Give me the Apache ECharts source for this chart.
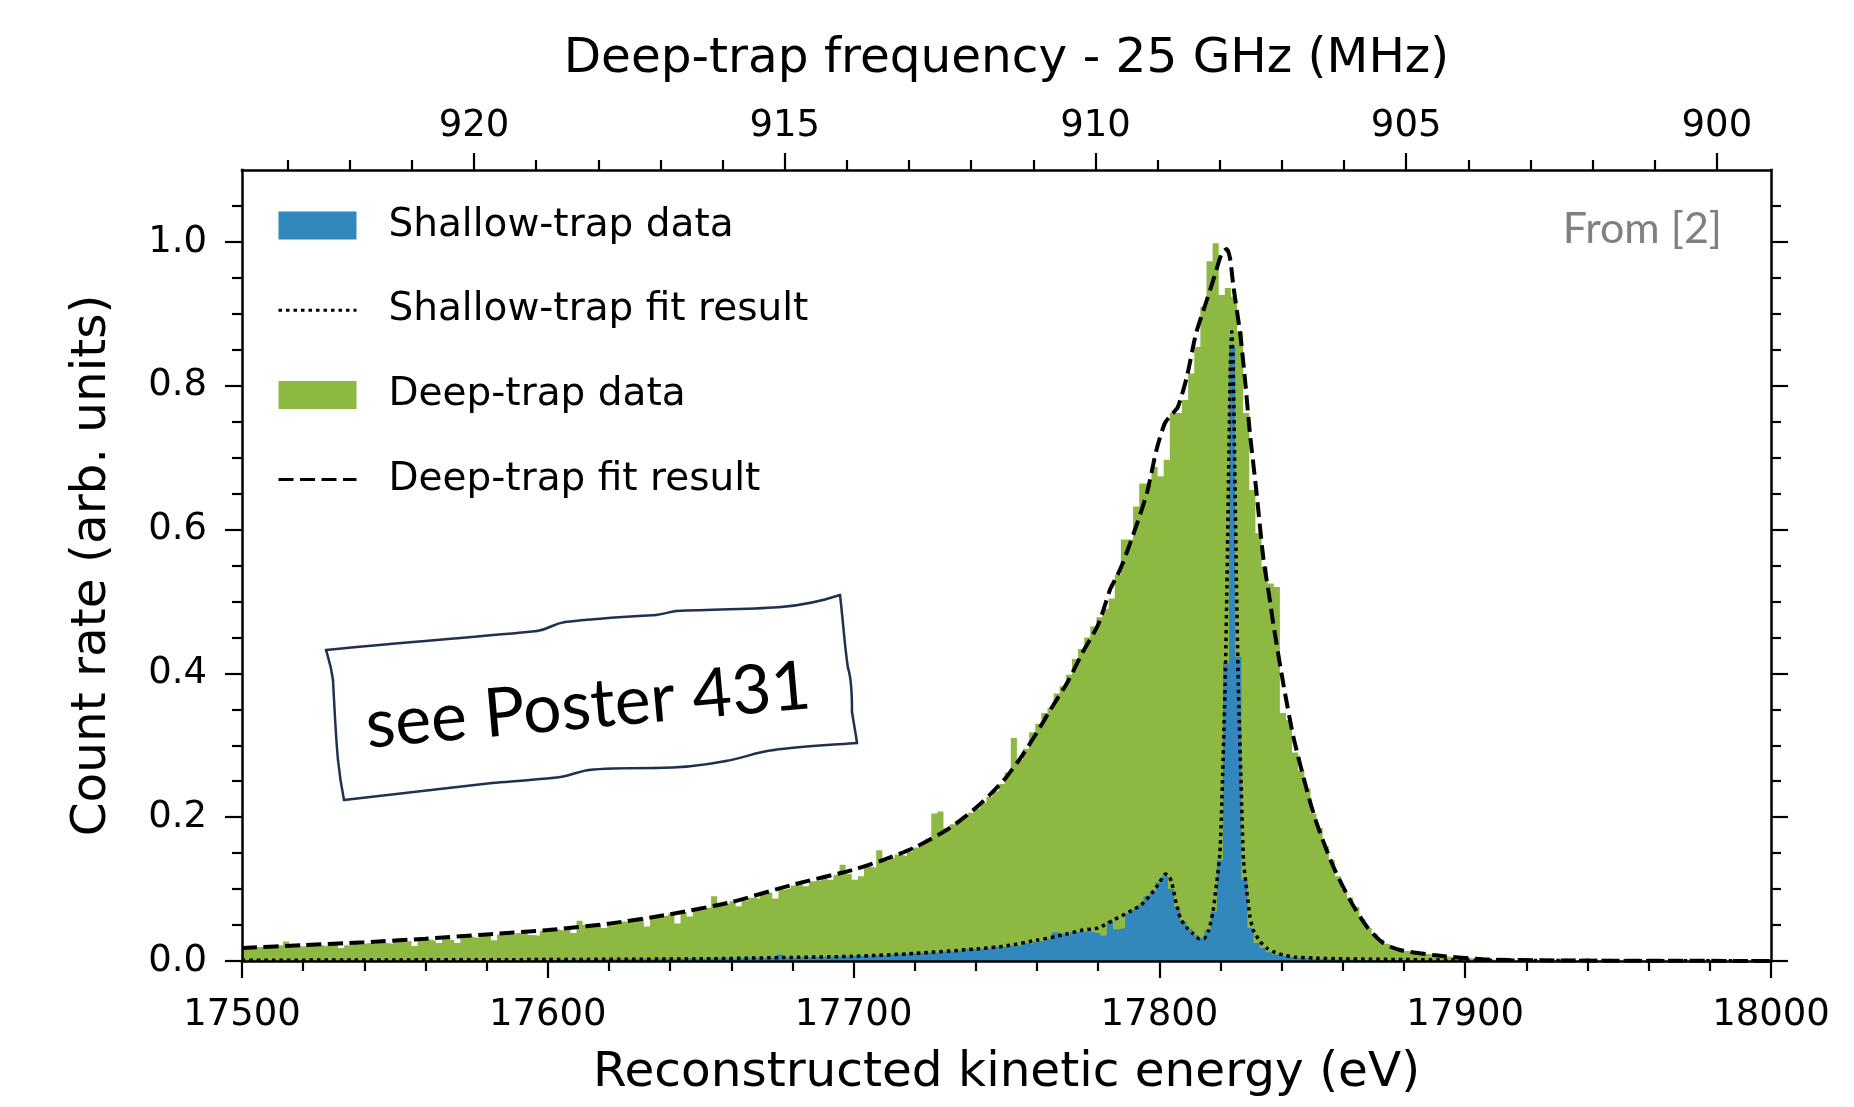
<!DOCTYPE html>
<html>
<head>
<meta charset="utf-8">
<script src="https://cdn.jsdelivr.net/npm/echarts@6/dist/echarts.min.js"></script>
<style>
  html, body { margin: 0; padding: 0; background: #ffffff; }
  #chart { width: 1854px; height: 1107px; }
</style>
</head>
<body>
<div id="chart"></div>
<script>
// ---- Histogram binning (eV) ----
const binWidth = 2;
const deepBinStart = 17499.4;      // left edge of first deep-trap bin
const shallowBinStart = 17600.8;   // left edge of first shallow-trap bin

// Deep-trap normalised count rate per bin
const deepCounts = [
  0.020, 0.021, 0.019, 0.020, 0.018,  0.019, 0.022, 0.027, 0.021, 0.020,
  0.021, 0.022, 0.023, 0.021, 0.022,  0.023, 0.018, 0.022, 0.024, 0.023,
  0.025, 0.024, 0.026, 0.025, 0.024,  0.027, 0.026, 0.028, 0.021, 0.029,
  0.030, 0.028, 0.025, 0.031, 0.029,  0.025, 0.033, 0.034, 0.032, 0.035,
  0.036, 0.029, 0.037, 0.038, 0.036,  0.039, 0.040, 0.036, 0.035, 0.042,
  0.043, 0.044, 0.042, 0.046, 0.039,  0.056, 0.050, 0.049, 0.051, 0.046,
  0.053, 0.052, 0.055, 0.054, 0.056,  0.059, 0.048, 0.060, 0.062, 0.063,
  0.066, 0.052, 0.068, 0.062, 0.070,  0.071, 0.074, 0.090, 0.078, 0.080,
  0.083, 0.076, 0.084, 0.088, 0.087,  0.092, 0.095, 0.087, 0.099, 0.101,
  0.105, 0.108, 0.104, 0.111, 0.112,  0.116, 0.113, 0.120, 0.134, 0.121,
  0.113, 0.118, 0.131, 0.130, 0.154,  0.139, 0.143, 0.148, 0.146, 0.152,
  0.158, 0.163, 0.170, 0.205, 0.208,  0.185, 0.190, 0.196, 0.202, 0.206,
  0.212, 0.220, 0.228, 0.236, 0.246,  0.262, 0.310, 0.280, 0.295, 0.318,
  0.330, 0.345, 0.352, 0.372, 0.382,  0.398, 0.420, 0.434, 0.450, 0.465,
  0.478, 0.490, 0.504, 0.537, 0.586,  0.586, 0.632, 0.664, 0.664, 0.687,
  0.674, 0.697, 0.762, 0.762, 0.780,  0.817, 0.854, 0.910, 0.973, 0.998,
  0.926, 0.936, 0.924, 0.875, 0.762,  0.655, 0.595, 0.548, 0.525, 0.520,
  0.345, 0.335, 0.290, 0.265, 0.240,  0.205, 0.185, 0.160, 0.140, 0.118,
  0.100, 0.088, 0.075, 0.058, 0.046,  0.038, 0.030, 0.024, 0.020, 0.017,
  0.014, 0.012, 0.011, 0.010, 0.009,  0.008, 0.007, 0.006, 0.005, 0.005,
  0.004, 0.003, 0.003, 0.002, 0.002, 0.001
];

// Shallow-trap normalised count rate per bin
const shallowCounts = [
  0.001, 0.002, 0.001, 0.002, 0.002,  0.002, 0.001, 0.002, 0.002, 0.003,
  0.002, 0.002, 0.003, 0.002, 0.003,  0.003, 0.002, 0.003, 0.003, 0.002,
  0.003, 0.003, 0.004, 0.003, 0.003,  0.004, 0.003, 0.004, 0.004, 0.003,
  0.004, 0.004, 0.005, 0.004, 0.004,  0.005, 0.004, 0.009, 0.005, 0.005,
  0.005, 0.006, 0.005, 0.006, 0.006,  0.006, 0.007, 0.006, 0.007, 0.007,
  0.007, 0.008, 0.007, 0.009, 0.008,  0.009, 0.010, 0.009, 0.011, 0.010,
  0.011, 0.012, 0.011, 0.013, 0.014,  0.013, 0.015, 0.014, 0.017, 0.016,
  0.018, 0.017, 0.020, 0.019, 0.021,  0.022, 0.021, 0.025, 0.024, 0.027,
  0.028, 0.031, 0.040, 0.038, 0.036,  0.040, 0.041, 0.041, 0.040, 0.038,
  0.035, 0.056, 0.044, 0.046, 0.066,  0.072, 0.078, 0.090, 0.096, 0.109,
  0.118, 0.100, 0.075, 0.055, 0.045,  0.036, 0.032, 0.043, 0.069, 0.140,
  0.414, 0.855, 0.423, 0.113, 0.046,  0.025, 0.018, 0.012, 0.009, 0.007,
  0.006, 0.005, 0.004, 0.004, 0.003,  0.003, 0.003, 0.002, 0.002, 0.002,
  0.002, 0.002, 0.001, 0.001, 0.001,  0.001, 0.001, 0.001, 0.001, 0.001
];

// ---- Fit results, sampled along the energy axis ----
const deepFitEnergy = [
  17500, 17520, 17540, 17560, 17580, 17600, 17620, 17640, 17660, 17680,
  17700, 17710, 17720, 17730, 17735, 17740, 17745, 17750, 17755, 17760, 17764,
  17770, 17775, 17780, 17784, 17786, 17788, 17790, 17793, 17796, 17799,
  17801.8, 17804, 17806, 17809, 17812, 17815.5, 17818, 17820.4, 17822, 17823.1,
  17824.2, 17826.4, 17828, 17829.6, 17831.8, 17834, 17836.2, 17837.2, 17840.5, 17843.8,
  17848.2, 17851.4, 17856.9, 17862.3, 17867.8, 17873.2, 17878.7, 17889.6, 17905.9, 17930,
  17960, 18000
];
const deepFitValue = [
  0.018, 0.022, 0.026, 0.031, 0.037, 0.043, 0.052, 0.065, 0.082, 0.106,
  0.127, 0.141, 0.158, 0.181, 0.196, 0.213, 0.233, 0.256, 0.285, 0.318, 0.347,
  0.388, 0.430, 0.468, 0.518, 0.534, 0.553, 0.576, 0.612, 0.652, 0.710,
  0.748, 0.760, 0.770, 0.813, 0.873, 0.919, 0.952, 0.984, 0.990, 0.977,
  0.938, 0.873, 0.808, 0.734, 0.650, 0.560, 0.500, 0.470, 0.386, 0.312,
  0.238, 0.192, 0.131, 0.085, 0.048, 0.025, 0.0153, 0.0083, 0.0024, 0.0008,
  0.0003, 0.0001
];

const shallowFitEnergy = [
  17500, 17550, 17600, 17650, 17680, 17700, 17720, 17740, 17750, 17760,
  17766, 17770, 17775, 17780, 17785, 17790, 17794, 17797.5, 17800, 17802,
  17803, 17804, 17805.5, 17807, 17809, 17811, 17813, 17814.5, 17816, 17817.5,
  17818.7, 17819.8, 17820.6, 17821.5, 17822.1, 17822.7, 17823.2, 17823.65, 17824.1, 17824.6,
  17825.2, 17825.8, 17826.7, 17827.5, 17828.5, 17829.6, 17830.7, 17832.9, 17835.1, 17837.2,
  17840.5, 17844, 17851, 17860, 17880, 17900, 17950, 18000
];
const shallowFitValue = [
  0.001, 0.0015, 0.002, 0.003, 0.005, 0.0065, 0.0105, 0.0167, 0.021, 0.029,
  0.034, 0.038, 0.043, 0.046, 0.057, 0.068, 0.078, 0.094, 0.109, 0.121,
  0.119, 0.110, 0.080, 0.058, 0.046, 0.038, 0.031, 0.031, 0.041, 0.068,
  0.108, 0.150, 0.247, 0.386, 0.525, 0.700, 0.830, 0.875, 0.830, 0.700,
  0.525, 0.386, 0.247, 0.140, 0.100, 0.062, 0.043, 0.027, 0.018, 0.013,
  0.0083, 0.0055, 0.004, 0.003, 0.002, 0.0012, 0.0005, 0.0002
];

// ---- Axis ticks ----
const energyTicks = [17500, 17600, 17700, 17800, 17900, 18000];
const countTicks = [0.0, 0.2, 0.4, 0.6, 0.8, 1.0];
const freqTicks = [920, 915, 910, 905, 900];

// Energy <-> deep-trap frequency (MHz above 25 GHz) calibration
const calEnergy = 17575.9;
const calFreq = 920;
const eVPerMHz = 20.32;

// ---- Derived helpers ----
const energyMin = 17500, energyMax = 18000, countMax = 1.1;
const freqAt = e => calFreq - (e - calEnergy) / eVPerMHz;

const energyMinor = [];
for (let v = energyMin + 20; v < energyMax; v += 20) if (v % 100 !== 0) energyMinor.push(v);
const countMinor = [];
for (let i = 1; i <= 21; i++) if (i % 4 !== 0) countMinor.push(+(i * 0.05).toFixed(2));
const freqMinor = [];
for (let f = Math.ceil(freqAt(energyMax)); f <= Math.floor(freqAt(energyMin)); f++) if (f % 5 !== 0) freqMinor.push(f);

function histPoints(start, counts) {
  const pts = counts.map((v, i) => [start + i * binWidth, v]);
  pts.push([start + counts.length * binWidth, counts[counts.length - 1]]);
  return pts;
}
const zip = (xs, ys) => xs.map((x, i) => [x, ys[i]]);

const FONT = 'DejaVu Sans';
const GREEN = '#8db943';
const BLUE = '#3288bd';
const INK = '#000000';

const spine = { show: true, onZero: false, lineStyle: { color: INK, width: 2.5, cap: 'square' } };
const hiddenLine = { show: false, onZero: false };
const tickStyle = { color: INK, width: 2.2 };
const tickFont = { color: INK, fontFamily: FONT, fontSize: 37 };
const nameFont = { color: INK, fontFamily: FONT, fontSize: 48.5 };

function majorAxis(o) {
  return Object.assign({
    type: 'value', gridIndex: 0, splitLine: { show: false }, minorTick: { show: false },
    axisLine: spine, z: 10
  }, o);
}
function minorAxis(o) {
  return Object.assign({
    type: 'value', gridIndex: 0, splitLine: { show: false }, minorTick: { show: false },
    axisLine: hiddenLine, axisLabel: { show: false }, z: 10
  }, o);
}

// Hand-drawn callout frame: start point, then cubic segments [c1x,c1y,c2x,c2y,x,y]
const frameStart = [326, 650];
const frameSegments = [
  [400, 642, 480, 637, 537, 631], [550, 629, 552, 624, 565, 622], [600, 618, 640, 616, 656, 615],
  [665, 614, 668, 612, 676, 611], [720, 609, 760, 609, 781, 607], [805, 605, 825, 600, 840, 595],
  [843, 620, 845, 650, 848, 668], [852, 680, 852, 700, 852, 712], [854, 725, 856, 735, 857, 743],
  [830, 745, 795, 747, 774, 750], [755, 752, 745, 758, 726, 761], [700, 766, 675, 768, 655, 768],
  [625, 768, 605, 768, 589, 770], [575, 772, 568, 777, 552, 778], [530, 780, 510, 782, 492, 783],
  [440, 789, 390, 795, 344, 800], [341, 785, 339, 770, 338, 760], [336, 740, 334, 700, 333, 680],
  [331, 665, 328, 657, 326, 650]
];
const frameElements = [];
{
  let p = frameStart;
  for (const s of frameSegments) {
    frameElements.push({
      type: 'bezierCurve', silent: true,
      shape: { x1: p[0], y1: p[1], cpx1: s[0], cpy1: s[1], cpx2: s[2], cpy2: s[3], x2: s[4], y2: s[5] },
      style: { fill: null, stroke: '#1f3050', lineWidth: 2.5, lineCap: 'round' }
    });
    p = [s[4], s[5]];
  }
}

const chart = echarts.init(document.getElementById('chart'), null, { renderer: 'canvas', width: 1854, height: 1107 });

const hiddenSymbol = { opacity: 0, color: 'rgba(0,0,0,0)', borderWidth: 0 };

const option = {
  animation: false,
  backgroundColor: '#ffffff',
  grid: { left: 242, right: 83, top: 170, bottom: 146, containLabel: false, outerBoundsMode: 'none' },
  xAxis: [
    majorAxis({
      position: 'bottom', min: energyMin, max: energyMax,
      axisTick: { show: true, inside: false, length: 17, lineStyle: tickStyle, customValues: energyTicks },
      axisLabel: Object.assign({ show: true, margin: 36, customValues: energyTicks, formatter: v => String(Math.round(v)) }, tickFont),
      name: 'Reconstructed kinetic energy (eV)', nameLocation: 'middle', nameGap: 88, nameTextStyle: nameFont
    }),
    minorAxis({
      position: 'bottom', min: energyMin, max: energyMax,
      axisTick: { show: true, inside: false, length: 10, lineStyle: tickStyle, customValues: energyMinor }
    }),
    majorAxis({
      position: 'top', min: freqAt(energyMax), max: freqAt(energyMin), inverse: true,
      axisTick: { show: true, inside: false, length: 17, lineStyle: tickStyle, customValues: freqTicks },
      axisLabel: Object.assign({ show: true, margin: 25, customValues: freqTicks, formatter: v => String(Math.round(v)) }, tickFont),
      name: 'Deep-trap frequency - 25 GHz (MHz)', nameLocation: 'middle', nameGap: 86, nameTextStyle: nameFont
    }),
    minorAxis({
      position: 'top', min: freqAt(energyMax), max: freqAt(energyMin), inverse: true,
      axisTick: { show: true, inside: false, length: 10, lineStyle: tickStyle, customValues: freqMinor }
    })
  ],
  yAxis: [
    majorAxis({
      position: 'left', min: 0, max: countMax,
      axisTick: { show: true, inside: false, length: 17, lineStyle: tickStyle, customValues: countTicks },
      axisLabel: Object.assign({ show: true, margin: 35, padding: [5, 0, 0, 0], customValues: countTicks, formatter: v => Number(v).toFixed(1) }, tickFont),
      name: 'Count rate (arb. units)', nameLocation: 'middle', nameGap: 125, nameTextStyle: nameFont
    }),
    minorAxis({
      position: 'left', min: 0, max: countMax,
      axisTick: { show: true, inside: false, length: 10, lineStyle: tickStyle, customValues: countMinor }
    }),
    majorAxis({
      position: 'right', min: 0, max: countMax,
      axisTick: { show: true, inside: false, length: 17, lineStyle: tickStyle, customValues: countTicks },
      axisLabel: { show: false }
    }),
    minorAxis({
      position: 'right', min: 0, max: countMax,
      axisTick: { show: true, inside: false, length: 10, lineStyle: tickStyle, customValues: countMinor }
    })
  ],
  legend: {
    orient: 'vertical', left: 277, top: 205.5, padding: 0,
    itemWidth: 78, itemHeight: 28, itemGap: 44.7, selectedMode: false,
    textStyle: { color: INK, fontFamily: FONT, fontSize: 39, lineHeight: 40, padding: [0, 0, 0, 27] },
    lineStyle: { width: 3 },
    data: [
      { name: 'Shallow-trap data', icon: 'rect' },
      { name: 'Shallow-trap fit result', itemStyle: hiddenSymbol },
      { name: 'Deep-trap data', icon: 'rect' },
      { name: 'Deep-trap fit result', itemStyle: hiddenSymbol }
    ]
  },
  series: [
    {
      name: 'Deep-trap data', type: 'line', xAxisIndex: 0, yAxisIndex: 0,
      data: histPoints(deepBinStart, deepCounts), step: 'end', symbol: 'none',
      color: GREEN, lineStyle: { width: 0, opacity: 0 }, areaStyle: { color: GREEN, opacity: 1 },
      silent: true, z: 1
    },
    {
      name: 'Shallow-trap data', type: 'line', xAxisIndex: 0, yAxisIndex: 0,
      data: histPoints(shallowBinStart, shallowCounts), step: 'end', symbol: 'none',
      color: BLUE, lineStyle: { width: 0, opacity: 0 }, areaStyle: { color: BLUE, opacity: 1 },
      silent: true, z: 2
    },
    {
      name: 'Deep-trap fit result', type: 'line', xAxisIndex: 0, yAxisIndex: 0,
      data: zip(deepFitEnergy, deepFitValue), symbol: 'none', smooth: 0.25,
      color: INK, lineStyle: { color: INK, width: 4, type: [15, 6.5], cap: 'butt' },
      silent: true, z: 3
    },
    {
      name: 'Shallow-trap fit result', type: 'line', xAxisIndex: 0, yAxisIndex: 0,
      data: zip(shallowFitEnergy, shallowFitValue), symbol: 'none', smooth: 0.2,
      color: INK, lineStyle: { color: INK, width: 3.5, type: [3.5, 4], cap: 'butt' },
      silent: true, z: 4
    }
  ],
  graphic: [
    {
      type: 'text', x: 1722, y: 229, silent: true,
      style: { text: 'From [2]', fill: '#808080', fontFamily: 'Lato', fontSize: 43, align: 'right', verticalAlign: 'middle' }
    },
    {
      type: 'group', silent: true, children: frameElements
    },
    {
      type: 'text', x: 588, y: 706, rotation: 0.089, silent: true,
      style: { text: 'see Poster 431', fill: INK, fontFamily: 'Lato', fontSize: 68, align: 'center', verticalAlign: 'middle' }
    }
  ]
};

chart.setOption(option);
</script>
</body>
</html>
